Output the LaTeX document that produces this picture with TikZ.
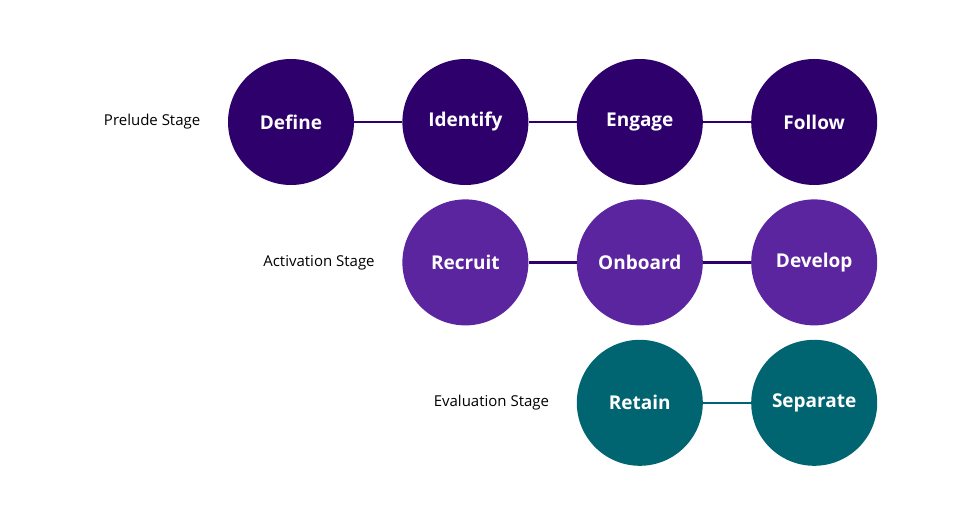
\documentclass[tikz,border=0pt]{standalone}
\usepackage{fontspec}
\setmainfont{Open Sans}
\usetikzlibrary{positioning}
\definecolor{prelude}{HTML}{2E006C}
\definecolor{activation}{HTML}{5B25A0}
\definecolor{evaluation}{HTML}{006570}
\begin{document}
\begin{tikzpicture}[x=1pt, y=-1pt,
		  % Define the style of the stage circles
		  phase/.style={circle, minimum size=126pt, inner sep=0pt, text=white, font=\fontsize{19}{22}\selectfont\bfseries},
		  % Define the style of the links between circles
		  link/.style={line width=2.5pt},
		  % Define the style of the stage labels
		  stagelabel/.style={font=\fontsize{15}{18}\selectfont}
		  ]
		  \useasboundingbox (0,0) rectangle (967,524);

		  % Prelude stage
		  \node[phase, fill=prelude] (define) at (291,122) {Define};
		  \node[phase, fill=prelude, right=48pt of define] (identify) {Identify};
		  \node[phase, fill=prelude, right=48pt of identify] (engage) {Engage};
		  \node[phase, fill=prelude, right=48pt of engage] (follow) {Follow};
		  \node[stagelabel, left=24pt of define] (prelude) {Prelude Stage};

		  % Activation stage
		  \node[phase, fill=activation, below=14pt of identify] (recruit) {Recruit};
		  \node[phase, fill=activation, right=48pt of recruit] (onboard) {Onboard};
		  \node[phase, fill=activation, right=48pt of onboard] (develop) {Develop};
		  \node[stagelabel, left=24pt of recruit] (activation) {Activation Stage};

		  % Evaluation stage
		  \node[phase, fill=evaluation, below=14pt of onboard] (retain) {Retain};
		  \node[phase, fill=evaluation, right=48pt of retain] (separate) {Separate};
		  \node[stagelabel, left=24pt of retain] (evaluation) {Evaluation Stage};

		  % Connect the circles
		  \foreach \a/\b in {define/identify, identify/engage, engage/follow, recruit/onboard, onboard/develop} {
		    \draw[link, prelude] (\a) -- (\b);
		  }
		  \draw[link, evaluation] (retain) -- (separate);
		\end{tikzpicture}
\end{document}
